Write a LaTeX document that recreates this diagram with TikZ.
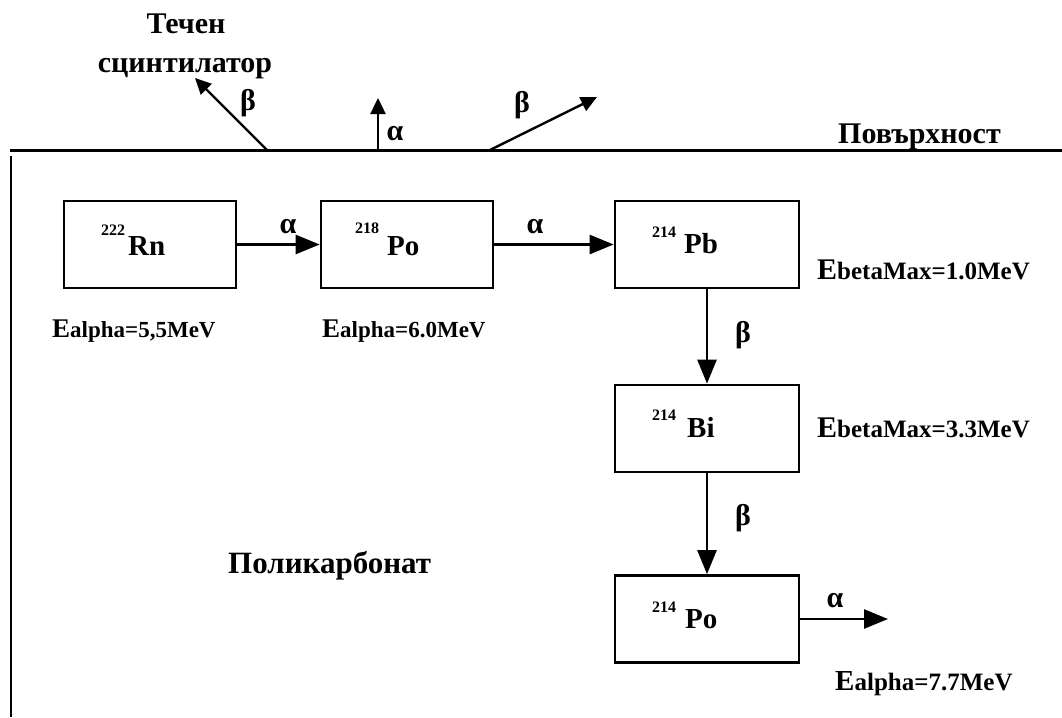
\documentclass[tikz,border=0pt]{standalone}
\usepackage{fontspec}
\setmainfont{Liberation Serif}
\usetikzlibrary{arrows.meta}
\newcommand{\fs}[1]{\fontsize{#1}{#1}\selectfont}
\newcommand{\nuc}[4]{\raisebox{#3pt}{\fs{16}#1}\hspace{#4pt}#2}
\begin{document}
\begin{tikzpicture}[x=1pt,y=-1pt,
  box/.style={draw, line width=2.7pt, minimum width=#1, minimum height=87pt, inner sep=0pt},
  arr/.style={line width=2.6pt, -{Triangle[length=24pt,width=19pt]}},
  sarr/.style={line width=2.4pt, -{Triangle[length=16pt,width=15pt]}},
  gr/.style={font=\bfseries\fs{30}, inner sep=0pt},
  nucl/.style={font=\bfseries\fs{29}, anchor=base west, inner sep=0pt},
  elbl/.style={font=\bfseries\fs{#1}, anchor=base west, inner sep=0pt},
  cyr/.style={font=\bfseries\fs{#1}, inner sep=0pt}]
\useasboundingbox (0,0) rectangle (1062,717);
% surface and polycarbonate border
\coordinate (sl) at (10,150);
\coordinate (sr) at (1062,150);
\coordinate (vt) at (11,156);
\coordinate (vb) at (11,717);
\draw[line width=3pt] (sl) -- (sr);
\draw[line width=2.8pt] (vt) -- (vb);
% top emissions
\coordinate (b1s) at (267,150);
\coordinate (b1e) at (195,78);
\coordinate (a1s) at (378,150);
\coordinate (a1e) at (378,98);
\coordinate (b2s) at (490,150);
\coordinate (b2e) at (597,97);
\draw[sarr] (b1s) -- (b1e);
\draw[sarr] (a1s) -- (a1e);
\draw[sarr] (b2s) -- (b2e);
\node[gr] (lb1) at (248,103) {β};
\node[gr] (la1) at (395,134) {α};
\node[gr] (lb2) at (522,105) {β};
% texts
\node[cyr=30, anchor=base] (t1) at (186,34) {Течен};
\node[cyr=30, anchor=base] (t2) at (185,73) {сцинтилатор};
\node[cyr=30, anchor=base west] (surf) at (838,143) {Повърхност};
\node[cyr=31, anchor=base west] (poly) at (228,573) {Поликарбонат};
% boxes
\node[box=172pt] (rn) at (150,244.5) {};
\node[box=172pt] (po1) at (407,244.5) {};
\node[box=184pt] (pb) at (707,244.5) {};
\node[box=184pt] (bi) at (707,428.5) {};
\node[box=184pt] (po2) at (707,619) {};
\node[nucl] (rnl) at (101,255) {\nuc{222}{Rn}{20}{3}};
\node[nucl] (po1l) at (355,255) {\nuc{218}{Po}{22}{8}};
\node[nucl] (pbl) at (652,253) {\nuc{214}{Pb}{16}{8}};
\node[nucl] (bil) at (652,437) {\nuc{214}{Bi}{17}{11}};
\node[nucl] (po2l) at (652,628) {\nuc{214}{Po}{16}{9}};
% decay arrows
\draw[arr] (rn.east) -- (po1.west);
\draw[arr] (po1.east) -- (pb.west);
\draw[arr] (pb.south) -- (bi.north);
\draw[arr] (bi.south) -- (po2.north);
\coordinate (aend) at (888,619);
\draw[arr] (po2.east) -- (aend);
\node[gr] (l1) at (288,227) {α};
\node[gr] (l2) at (535,227) {α};
\node[gr] (l3) at (743,335) {β};
\node[gr] (l4) at (743,518) {β};
\node[gr] (l5) at (835,601) {α};
% energies
\node[elbl=23] (e1) at (52,337) {{\fs{27}E}alpha=5,5MeV};
\node[elbl=23] (e2) at (322,337) {{\fs{27}E}alpha=6.0MeV};
\node[elbl=25] (e3) at (817,279) {{\fs{30}E}betaMax=1.0MeV};
\node[elbl=25] (e4) at (817,437) {{\fs{30}E}betaMax=3.3MeV};
\node[elbl=25] (e5) at (835,690) {{\fs{29}E}alpha=7.7MeV};
\end{tikzpicture}
\end{document}
